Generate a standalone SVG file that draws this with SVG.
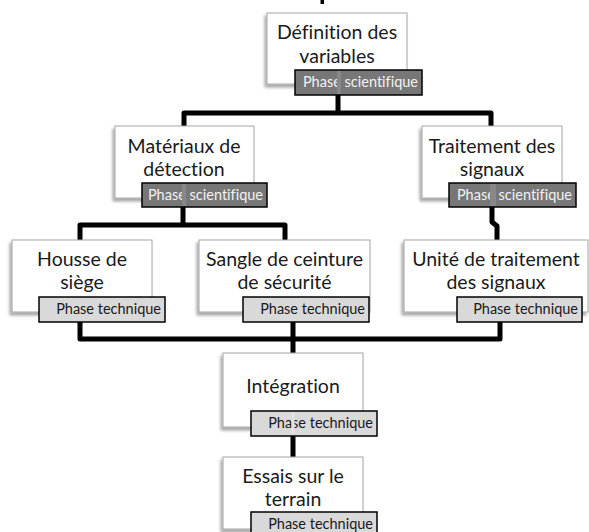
<svg xmlns="http://www.w3.org/2000/svg" width="589" height="532" viewBox="0 0 589 532">
<defs>
<filter id="sh" x="-20%" y="-20%" width="140%" height="150%">
<feDropShadow dx="-2" dy="3" stdDeviation="1.8" flood-color="#000" flood-opacity="0.35"/>
</filter>
<style>
text{font-variant-ligatures:none;font-family:Lato,"Open Sans",sans-serif}
.box{fill:#fff;stroke:#a6a6a6;stroke-width:1;filter:url(#sh)}
.t{font-size:19.5px;fill:#1a1a1a;text-anchor:middle}
.sci{fill:#777;stroke:#000;stroke-width:1.5}
.tec{fill:#d9d9d9;stroke:#000;stroke-width:1.5}
.ls{font-size:14.5px;fill:#f2f2f2;text-anchor:end}
.lt{font-size:14.5px;fill:#1a1a1a;text-anchor:end}
.con{fill:none;stroke:#000;stroke-width:5;stroke-linejoin:round}
.ss{fill:#888}
.st{fill:#e2e2e2}
</style>
</defs>
<rect x="320.5" y="0" width="3.5" height="4" fill="#000"/>
<g id="connectors">
<path class="con" d="M338,95 V113 M184,126 V113 H491 V126"/>
<path class="con" d="M183,207 V225 M80,240 V225 H285 V240"/>
<path class="con" d="M492,207 V222 L497,226 V240"/>
<path class="con" d="M80,322 V339 H500 V322 M293,322 V353"/>
<path class="con" d="M293,436 V457"/>
</g>
<g id="n-definition">
<rect class="box" x="267" y="13" width="140" height="71"/>
<text class="t" x="337" y="39">Définition des</text>
<text class="t" x="337" y="63">variables</text>
<rect class="sci" x="295" y="70" width="127" height="25"/>
<text class="ls" x="418" y="87">Phase scientifique</text>
<rect class="ss" x="337" y="71" width="4" height="23"/>
</g>
<g id="n-materiaux">
<rect class="box" x="115" y="126" width="139" height="72"/>
<text class="t" x="184" y="153">Matériaux de</text>
<text class="t" x="184" y="176">détection</text>
<rect class="sci" x="142" y="183" width="125" height="24"/>
<text class="ls" x="263" y="200">Phase scientifique</text>
<rect class="ss" x="182" y="184" width="4" height="22"/>
</g>
<g id="n-traitement">
<rect class="box" x="422" y="126" width="140" height="72"/>
<text class="t" x="492" y="153">Traitement des</text>
<text class="t" x="492" y="176">signaux</text>
<rect class="sci" x="449" y="183" width="127" height="24"/>
<text class="ls" x="572" y="200">Phase scientifique</text>
<rect class="ss" x="490" y="184" width="6" height="22"/>
</g>
<g id="n-housse">
<rect class="box" x="12" y="240" width="140" height="72"/>
<text class="t" x="82" y="266">Housse de</text>
<text class="t" x="82" y="289">siège</text>
<rect class="tec" x="39" y="297" width="126" height="25"/>
<text class="lt" x="161" y="314">Phase technique</text>
</g>
<g id="n-sangle">
<rect class="box" x="199" y="240" width="171" height="72"/>
<text class="t" x="284.5" y="266">Sangle de ceinture</text>
<text class="t" x="284.5" y="289">de sécurité</text>
<rect class="tec" x="243" y="297" width="126" height="25"/>
<text class="lt" x="365" y="314">Phase technique</text>
</g>
<g id="n-unite">
<rect class="box" x="404" y="240" width="184" height="72"/>
<text class="t" x="496" y="266">Unité de traitement</text>
<text class="t" x="496" y="289">des signaux</text>
<rect class="tec" x="457" y="297" width="125" height="25"/>
<text class="lt" x="578" y="314">Phase technique</text>
</g>
<g id="n-integration">
<rect class="box" x="223" y="353" width="140" height="74"/>
<text class="t" x="293" y="393">Intégration</text>
<rect class="tec" x="251" y="411" width="126" height="25"/>
<text class="lt" x="373" y="428">Phase technique</text>
<rect class="st" x="291.5" y="412" width="3" height="23"/>
</g>
<g id="n-essais">
<rect class="box" x="223" y="457" width="140" height="72"/>
<text class="t" x="293" y="483">Essais sur le</text>
<text class="t" x="293" y="506">terrain</text>
<rect class="tec" x="251" y="512" width="126" height="25"/>
<text class="lt" x="373" y="529">Phase technique</text>
</g>
</svg>
